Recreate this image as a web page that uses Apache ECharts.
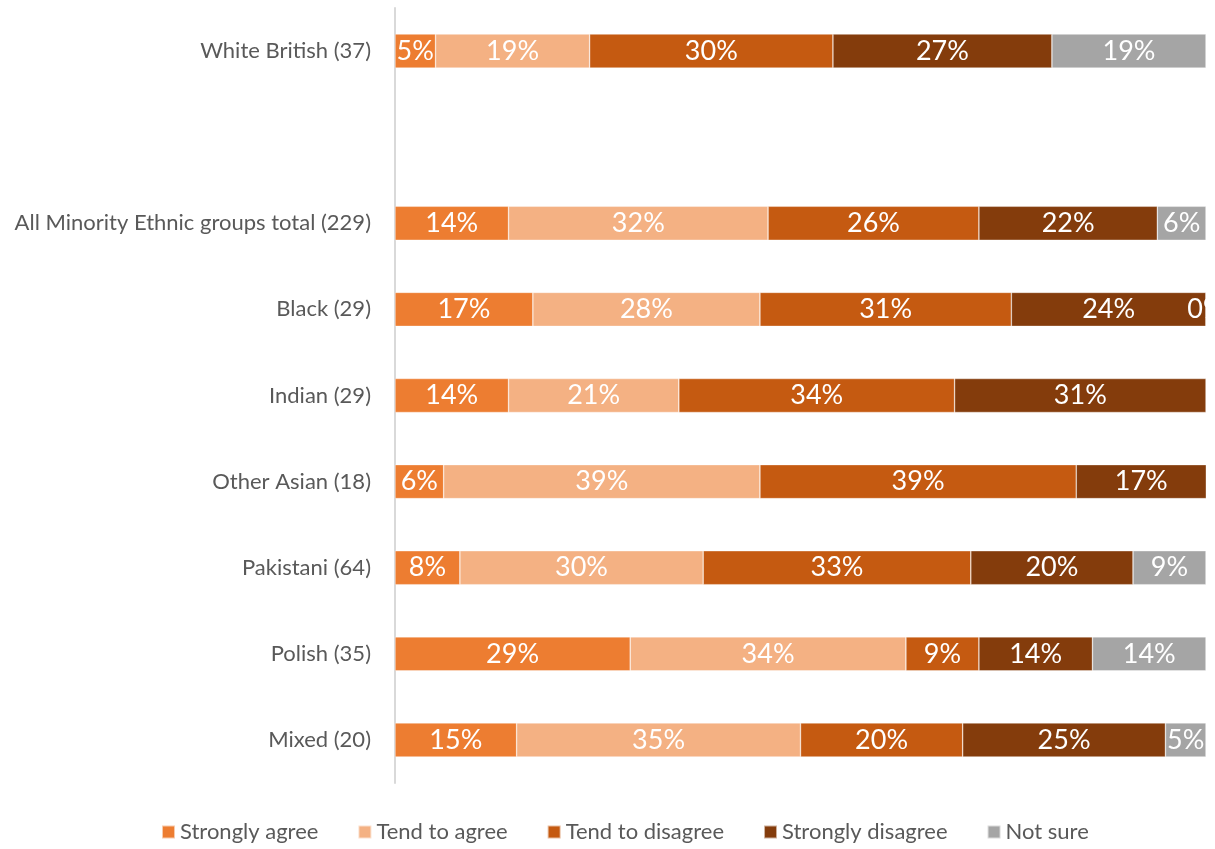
<!DOCTYPE html>
<html>
<head>
<meta charset="utf-8">
<script src="https://cdn.jsdelivr.net/npm/echarts@6/dist/echarts.min.js"></script>
<style>
  html, body { margin: 0; padding: 0; background: #fff; }
  #chart { width: 1215px; height: 849px; }
</style>
</head>
<body>
<div id="chart"></div>
<script>
// Groups, top to bottom (empty string leaves a gap row)
const categories = [
  'White British (37)',
  '',
  'All Minority Ethnic groups total (229)',
  'Black (29)',
  'Indian (29)',
  'Other Asian (18)',
  'Pakistani (64)',
  'Polish (35)',
  'Mixed (20)'
];

// Percentages per response, same order as categories (null = no bar)
const stronglyAgree    = [5,  null, 14, 17, 14, 6,  8,  29, 15];
const tendToAgree      = [19, null, 32, 28, 21, 39, 30, 34, 35];
const tendToDisagree   = [30, null, 26, 31, 34, 39, 33, 9,  20];
const stronglyDisagree = [27, null, 22, 24, 31, 17, 20, 14, 25];
const notSure          = [19, null, 6,  0,  null, null, 9, 14, 5];

const seriesNames  = ['Strongly agree', 'Tend to agree', 'Tend to disagree', 'Strongly disagree', 'Not sure'];
const seriesData   = [stronglyAgree, tendToAgree, tendToDisagree, stronglyDisagree, notSure];
const seriesColors = ['#ED7D31', '#F4B183', '#C55A11', '#843C0C', '#A5A5A5'];

const FONT = 'Lato, "Open Sans", sans-serif';

const chart = echarts.init(document.getElementById('chart'));

chart.setOption({
  animation: false,
  grid: { left: 395, right: 9, top: 8, bottom: 66, containLabel: false },
  legend: {
    bottom: 1,
    left: 156,
    itemWidth: 13,
    itemHeight: 13,
    itemGap: 39,
    icon: 'rect',
    textStyle: { fontFamily: FONT, fontSize: 22, color: '#595959' },
    data: seriesNames
  },
  xAxis: {
    type: 'value',
    min: 0,
    max: 100,
    show: false
  },
  yAxis: {
    type: 'category',
    data: categories,
    inverse: true,
    axisLine: { show: true, lineStyle: { color: '#D9D9D9', width: 2 } },
    axisTick: { show: false },
    axisLabel: { fontFamily: FONT, fontSize: 22, color: '#595959', margin: 24 }
  },
  series: seriesNames.map((name, i) => ({
    name,
    type: 'bar',
    stack: 'total',
    barWidth: 34,
    clip: true,
    data: seriesData[i],
    itemStyle: { color: seriesColors[i], borderColor: 'rgba(255,255,255,0.6)', borderWidth: 0.6 },
    label: {
      show: true,
      position: 'inside',
      color: '#fff',
      fontFamily: FONT,
      fontSize: 27,
      formatter: p => (p.value === null || p.value === undefined) ? '' : p.value + '%'
    }
  }))
});
</script>
</body>
</html>
